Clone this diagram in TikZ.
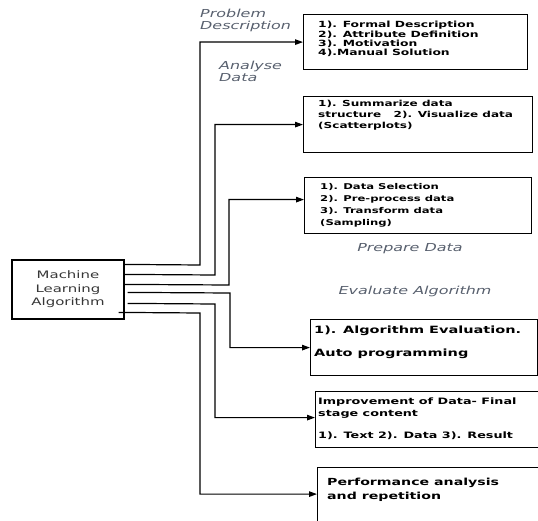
\documentclass[tikz,border=0pt]{standalone}
\usepackage{fontspec}
\setmainfont{DejaVu Sans}[FakeStretch=1.45, BoldFont=DejaVu Sans Bold, ItalicFont=DejaVu Sans Oblique, BoldItalicFont=DejaVu Sans Bold Oblique]
\usetikzlibrary{arrows.meta,calc}
\definecolor{lblgray}{RGB}{88,96,110}
\definecolor{mltext}{RGB}{55,55,55}
\tikzset{
 boxshape/.style={draw, line width=1.2pt, inner sep=0pt, anchor=north west},
 boxtext/.style={anchor=west, align=left, inner sep=0pt, font=\bfseries\fontsize{8.5}{9.3}\selectfont},
 lbl/.style={text=lblgray, inner sep=0pt, font=\itshape\fontsize{11}{12}\selectfont},
 conn/.style={line width=1.2pt, -{Triangle[length=8pt,width=5.5pt]}},
}
\begin{document}
\begin{tikzpicture}[x=1pt,y=-1pt]
\useasboundingbox (0,0) rectangle (538,521);
\fill[white] (0,0) rectangle (538,521);

% main box
\node[draw, line width=1.2pt, minimum width=112pt, minimum height=59pt, inner sep=0pt,
      align=center, text=mltext, font=\fontsize{10.3}{13.5}\selectfont] (ml) at (68,289.5)
      {Machine\\Learning\\Algorithm};

% boxes
\node[boxshape, minimum width=224pt, minimum height=55pt] (b1) at (303,14) {};
\node[boxshape, minimum width=229pt, minimum height=56pt] (b2) at (303,96) {};
\node[boxshape, minimum width=227pt, minimum height=56pt] (b3) at (304,177) {};
\node[boxshape, minimum width=226.5pt, minimum height=56pt] (b4) at (310,319) {};
\node[boxshape, minimum width=226pt, minimum height=56pt] (b5) at (315,391) {};
\node[boxshape, minimum width=232pt, minimum height=66pt] (b6) at (317,467) {};

% box texts
\node[boxtext] (t1) at (318,39) {1). Formal Description\\2). Attribute Definition\\3). Motivation\\4).Manual Solution};
\node[boxtext, font=\bfseries\fontsize{8.3}{11}\selectfont] (t2) at (318,115) {1). Summarize data\\structure\ \ \ 2). Visualize data\\(Scatterplots)};
\node[boxtext, font=\bfseries\fontsize{8}{12}\selectfont] (t3) at (320,205) {1). Data Selection\\2). Pre-process data\\3). Transform data\\(Sampling)};
\node[boxtext, font=\bfseries\fontsize{10}{12.5}\selectfont] (t4) at (314,342.5) {1). Algorithm Evaluation.\\[10pt]Auto programming};
\node[boxtext, font=\bfseries\fontsize{8.8}{11.5}\selectfont] (t5) at (318,419) {Improvement of Data- Final\\stage content\\[11pt]1). Text 2). Data 3). Result};
\node[boxtext, font=\bfseries\fontsize{9.75}{14}\selectfont] (t6) at (327,490) {Performance analysis\\and repetition};

% labels
\node[lbl, anchor=west, align=left] (l1) at (200,20) {Problem\\Description};
\node[lbl, anchor=west, align=left] (l2) at (219,71) {Analyse\\Data};
\node[lbl] (l3) at (410,249) {Prepare Data};
\node[lbl] (l4) at (415,291) {Evaluate Algorithm};

% connectors
\draw[conn] ($(ml.north east)+(0,5)$) -- (200,265) |- (b1.west);
\draw[conn] ($(ml.north east)+(0,15)$) -- (215,275) |- (b2.west);
\draw[conn] ($(ml.north east)+(0,25)$) -- (229,285) |- ([yshift=6pt]b3.west);
\draw[conn] ($(ml.north east)+(3,33)$) -- (230,293) |- (b4.west);
\draw[conn] ($(ml.north east)+(3,44)$) -- (215,304) |- ([yshift=2pt]b5.west);
\draw[conn] ($(ml.north east)+(-6,53)$) -- (200,313) |- ([yshift=6.5pt]b6.west);
\end{tikzpicture}
\end{document}
